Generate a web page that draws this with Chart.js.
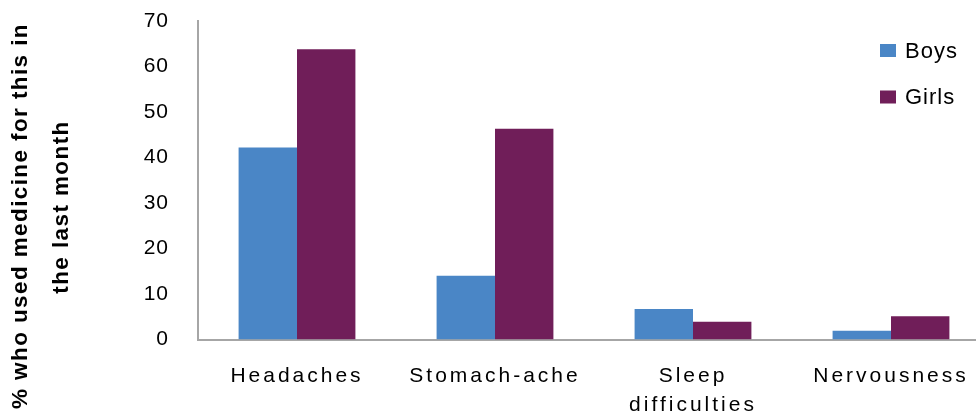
<!DOCTYPE html>
<html>
<head>
<meta charset="utf-8">
<script src="https://cdn.jsdelivr.net/npm/chart.js@4/dist/chart.umd.min.js"></script>
<style>
  html, body { margin: 0; padding: 0; background: #fff; overflow: hidden; }
  #wrap { width: 976px; height: 415px; position: relative; overflow: hidden; }
</style>
</head>
<body>
<div id="wrap"><canvas id="c" width="990" height="415"></canvas></div>
<script>
const categories = ["Headaches", "Stomach-ache", ["Sleep", "difficulties"], "Nervousness"];
const boys = [42.2, 14.0, 6.7, 1.9];
const girls = [63.8, 46.3, 3.9, 5.1];
const yTicks = [0, 10, 20, 30, 40, 50, 60, 70];
const seriesNames = ["Boys", "Girls"];
const yTitleLines = ["% who used medicine for this in", "the last month"];

const BLUE = "#4A86C6";
const PURPLE = "#701E59";
const FONT = "'Liberation Sans', Arial, sans-serif";

const spacingPlugin = {
  id: 'spacing',
  beforeUpdate(chart) { chart.ctx.letterSpacing = '3px'; },
  beforeDraw(chart) { chart.ctx.letterSpacing = '3px'; }
};

const overlayPlugin = {
  id: 'overlay',
  afterDraw(chart) {
    const ctx = chart.ctx;
    // legend
    ctx.save();
    ctx.letterSpacing = '1px';
    ctx.font = "22px " + FONT;
    ctx.textBaseline = 'middle';
    ctx.textAlign = 'left';
    const ys = [50.5, 97];
    chart.data.datasets.forEach((ds, i) => {
      ctx.fillStyle = ds.backgroundColor;
      ctx.fillRect(880, ys[i] - 6.5, 16, 13);
      ctx.fillStyle = '#000';
      ctx.fillText(ds.label, 905, ys[i] + 1);
    });
    ctx.restore();
    // y title
    const lines = [[yTitleLines[0], 21, 216], [yTitleLines[1], 62, 207]];
    lines.forEach(([t, x, y]) => {
      ctx.save();
      ctx.letterSpacing = '1.4px';
      ctx.font = "bold 22.5px " + FONT;
      ctx.fillStyle = '#000';
      ctx.textAlign = 'center';
      ctx.textBaseline = 'middle';
      ctx.translate(x, y);
      ctx.rotate(-Math.PI / 2);
      ctx.fillText(t, 0, 0);
      ctx.restore();
    });
  }
};

new Chart(document.getElementById('c'), {
  type: 'bar',
  data: {
    labels: categories,
    datasets: [
      { label: seriesNames[0], data: boys, backgroundColor: BLUE },
      { label: seriesNames[1], data: girls, backgroundColor: PURPLE }
    ]
  },
  options: {
    responsive: false,
    animation: false,
    devicePixelRatio: 1,
    layout: { padding: { top: 21, right: 0, left: 0, bottom: 0 } },
    datasets: { bar: { categoryPercentage: 0.59, barPercentage: 1.0 } },
    plugins: { legend: { display: false }, tooltip: { enabled: false } },
    scales: {
      x: {
        grid: { display: false, drawTicks: false },
        border: { display: true, color: '#A6A6A6', width: 2 },
        ticks: { color: '#000', font: { family: FONT, size: 21, lineHeight: 1.4 }, padding: 22, maxRotation: 0, autoSkip: false },
        afterFit(s) { s.height = 75.5; s.paddingLeft = 0; s.paddingRight = 0; }
      },
      y: {
        min: 0, max: 70,
        afterBuildTicks(s) { s.ticks = yTicks.map(v => ({ value: v })); },
        grid: { display: false, drawTicks: false },
        border: { display: true, color: '#A6A6A6', width: 2 },
        ticks: { color: '#000', font: { family: FONT, size: 21 }, padding: 29 },
        afterFit(s) {
          s.width = 198; s.paddingTop = 0; s.paddingBottom = 0;
          if (!s._lsPatched) {
            const orig = s.drawLabels;
            s.drawLabels = function (area) {
              const c = this.ctx; const prev = c.letterSpacing;
              c.letterSpacing = '1px';
              orig.call(this, area);
              c.letterSpacing = prev;
            };
            s._lsPatched = true;
          }
        }
      }
    }
  },
  plugins: [spacingPlugin, overlayPlugin]
});
</script>
</body>
</html>
